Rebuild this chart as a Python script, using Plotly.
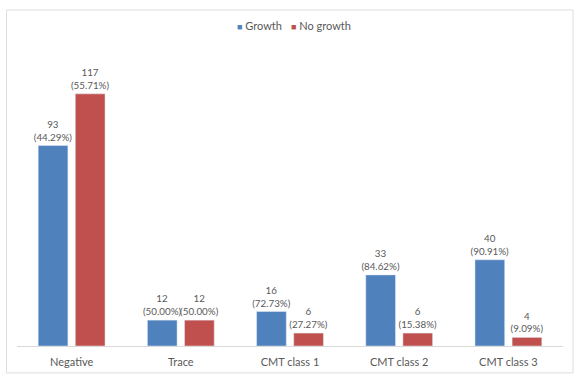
import plotly.graph_objects as go

categories = ["Negative", "Trace", "CMT class 1", "CMT class 2", "CMT class 3"]
growth = [93, 12, 16, 33, 40]
growth_pct = ["44.29%", "50.00%", "72.73%", "84.62%", "90.91%"]
no_growth = [117, 12, 6, 6, 4]
no_growth_pct = ["55.71%", "50.00%", "27.27%", "15.38%", "9.09%"]
series_names = ["Growth", "No growth"]
series_colors = ["#4F81BD", "#C0504D"]

FONT = "Lato, 'Open Sans', sans-serif"

fig = go.Figure()
for name, vals, pcts, col in zip(series_names, [growth, no_growth],
                                 [growth_pct, no_growth_pct], series_colors):
    fig.add_trace(go.Bar(
        name=name, x=categories, y=vals,
        text=[f"{v}<br>({p})" for v, p in zip(vals, pcts)],
        textposition="outside", cliponaxis=False, constraintext="none",
        marker=dict(color=col), showlegend=False,
        textfont=dict(color="#595959", size=9.8, family=FONT),
    ))

# legend drawn as small coloured squares + labels
legend_ann = []
for i, (name, col) in enumerate(zip(series_names, series_colors)):
    legend_ann.append(dict(
        xref="paper", yref="paper", x=[0.400, 0.498][i], y=1.049,
        xanchor="left", yanchor="middle", showarrow=False,
        text=f"<span style='color:{col};font-size:9px'>■</span> {name}",
        font=dict(family=FONT, size=11, color="#595959"),
    ))

fig.update_layout(
    width=587, height=380,
    margin=dict(l=17, r=24, t=40, b=34),
    paper_bgcolor="white", plot_bgcolor="rgba(0,0,0,0)",
    barmode="group", bargap=0.32, bargroupgap=0.2,
    font=dict(family=FONT, size=11, color="#595959"),
    showlegend=False,
    annotations=legend_ann,
    xaxis=dict(showline=True, linecolor="#D9D9D9", linewidth=1, ticks="",
               ticklabelstandoff=6,
               tickfont=dict(size=11, color="#595959"), showgrid=False),
    yaxis=dict(visible=False, range=[0, 142], showgrid=False, zeroline=False),
    shapes=[dict(type="rect", xref="paper", yref="paper",
                 x0=-0.0192, x1=1.0183, y0=-0.088, y1=1.098,
                 line=dict(color="#DDDDDD", width=1), layer="above")],
)

fig.write_html("out.html", config={"displayModeBar": False},
               post_script="document.body.style.margin='0';window.dispatchEvent(new Event('resize'));")
